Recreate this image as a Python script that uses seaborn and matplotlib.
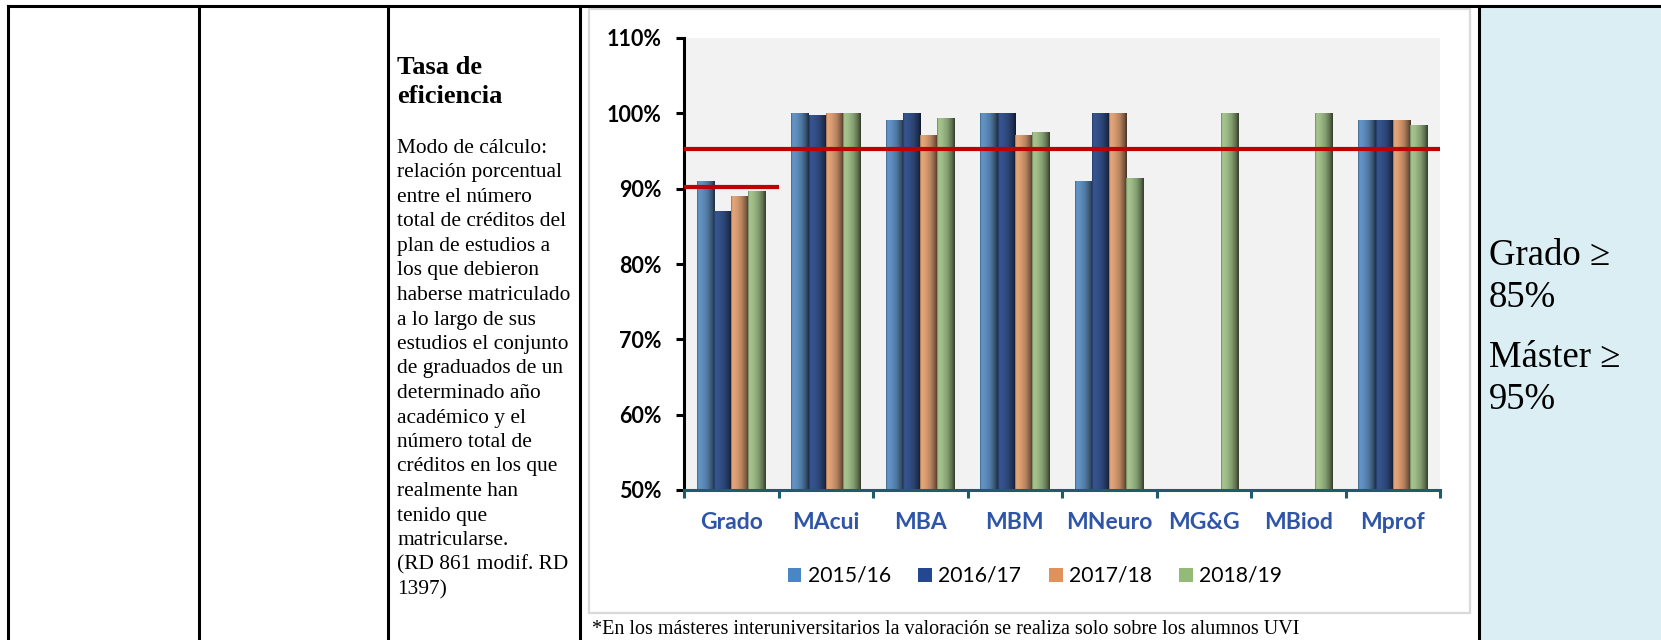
import numpy as np
import pandas as pd
import matplotlib
matplotlib.use("Agg")
import matplotlib.pyplot as plt
import seaborn as sns
from matplotlib.patches import Rectangle
from matplotlib.lines import Line2D

# ---------------- data ----------------
categories = ["Grado", "MAcui", "MBA", "MBM", "MNeuro", "MG&G", "MBiod", "Mprof"]
years = ["2015/16", "2016/17", "2017/18", "2018/19"]
v_2015_16 = [91.0, 100.0, 99.0, 100.0, 91.0, np.nan, np.nan, 99.1]
v_2016_17 = [87.0, 99.7, 100.0, 100.0, 100.0, np.nan, np.nan, 99.1]
v_2017_18 = [89.0, 100.0, 97.1, 97.1, 100.0, np.nan, np.nan, 99.1]
v_2018_19 = [89.6, 100.0, 99.3, 97.5, 91.3, 100.0, 100.0, 98.4]
target_grado = 90.2
target_master = 95.3
yticks = [50, 60, 70, 80, 90, 100, 110]
ytick_labels = [f"{t}%" for t in yticks]
year_colors = ["#4A86C4", "#23488F", "#E0925C", "#94BA77"]

title_lines = ["Tasa de", "eficiencia"]
body_lines = ["Modo de cálculo:", "relación porcentual", "entre el número",
              "total de créditos del", "plan de estudios a", "los que debieron",
              "haberse matriculado", "a lo largo de sus", "estudios el conjunto",
              "de graduados de un", "determinado año", "académico y el",
              "número total de", "créditos en los que", "realmente han",
              "tenido que", "matricularse.", "(RD 861 modif. RD", "1397)"]
right_lines = [["Grado ≥", "85%"], ["Máster ≥", "95%"]]
footnote = "*En los másteres interuniversitarios la valoración se realiza solo sobre los alumnos UVI"

df = pd.DataFrame({
    "cat": np.repeat(categories, len(years)),
    "year": years * len(categories),
    "val": np.column_stack([v_2015_16, v_2016_17, v_2017_18, v_2018_19]).ravel(),
})

# ---------------- figure ----------------
W, H = 1661, 640
fig = plt.figure(figsize=(W / 100, H / 100), dpi=100)
fig.patch.set_facecolor("white")


def fx(px):
    return px / W


def fy(py):
    return 1 - py / H


# right column light-blue cell
fig.add_artist(Rectangle((fx(1479), 0), fx(W) - fx(1479), fy(6), transform=fig.transFigure,
                         facecolor="#DAEEF3", edgecolor="none", zorder=-2))
# chart frame
fig.add_artist(Rectangle((fx(589), fy(613)), fx(1470) - fx(589), fy(9) - fy(613),
                         transform=fig.transFigure, facecolor="white",
                         edgecolor="#D9D9D9", lw=1.6, zorder=-1))
# table lines
tl = dict(color="black", lw=2.2, transform=fig.transFigure, zorder=3)
fig.add_artist(Line2D([fx(8), fx(W)], [fy(6), fy(6)], **tl))
for xv in [8, 199, 388, 580, 1479]:
    fig.add_artist(Line2D([fx(xv), fx(xv)], [fy(6), 0], **tl))

# ---------------- chart ----------------
ax = fig.add_axes([fx(684), fy(490), fx(1440) - fx(684), fy(38) - fy(490)])
ax.set_facecolor("#F2F2F2")
sns.barplot(data=df, x="cat", y="val", hue="year", order=categories, hue_order=years,
            palette=year_colors, width=0.73, errorbar=None, legend=False,
            linewidth=0, ax=ax, zorder=2)

ymin, ymax = 50, 110
# cylinder-like shading on each bar
t_pts = [0.0, 0.07, 0.3, 0.6, 0.85, 1.0]
f_pts = [0.75, 1.12, 1.05, 0.88, 0.6, 0.35]
tt = np.linspace(0, 1, 40)
ff = np.interp(tt, t_pts, f_pts)
for p in list(ax.patches):
    if not isinstance(p, Rectangle):
        continue
    h = p.get_height()
    if h is None or np.isnan(h) or h == 0:
        continue
    base = np.array(p.get_facecolor()[:3])
    grad = np.clip(base[None, :] * ff[:, None], 0, 1)[None, :, :]
    x0 = p.get_x()
    w = p.get_width()
    top = p.get_y() + h
    ax.imshow(grad, extent=[x0, x0 + w, max(p.get_y(), ymin), top],
              aspect="auto", interpolation="bilinear", zorder=2.5)

ax.hlines(target_grado, -0.5, 0.5, color="#C00000", lw=3.0, zorder=5)
ax.hlines(target_master, -0.5, len(categories) - 0.5, color="#C00000", lw=3.0, zorder=5)

ax.set_xlim(-0.5, len(categories) - 0.5)
ax.set_ylim(ymin, ymax)
ax.set_yticks(yticks)
ax.set_yticklabels(ytick_labels, fontfamily="Lato", fontweight="bold", fontsize=15.5, color="black")
ax.set_xticks(range(len(categories)))
ax.set_xticklabels(categories, fontfamily="Lato", fontweight="bold", fontsize=16.5, color="#2E55A8")
ax.set_xticks(np.arange(len(categories) + 1) - 0.5, minor=True)
ax.tick_params(axis="x", which="major", length=0, pad=16)
ax.tick_params(axis="x", which="minor", length=6, width=2.2, color="#1F5C6B", direction="out")
ax.tick_params(axis="y", which="major", length=6, width=2.2, color="black", pad=10)
ax.set_xlabel("")
ax.set_ylabel("")
for s in ["top", "right"]:
    ax.spines[s].set_visible(False)
ax.spines["left"].set_linewidth(2.2)
ax.spines["left"].set_color("black")
ax.spines["bottom"].set_linewidth(2.2)
ax.spines["bottom"].set_color("#1F5C6B")

handles = [Rectangle((0, 0), 1, 1, facecolor=c, edgecolor="none") for c in year_colors]
fig.legend(handles, years, loc="center", bbox_to_anchor=(fx(1035), fy(576)), ncol=4,
           frameon=False, prop={"family": "Lato", "size": 15.2}, handlelength=0.65,
           handleheight=0.65, handletextpad=0.3, columnspacing=1.3)

# ---------------- texts ----------------
serif = "Liberation Serif"
for i, line in enumerate(title_lines):
    fig.text(fx(397), fy(74 + 29 * i), line, fontfamily=serif, fontweight="bold",
             fontsize=19, va="baseline", ha="left")
for i, line in enumerate(body_lines):
    fig.text(fx(397), fy(153 + 24.5 * i), line, fontfamily=serif, fontsize=15.4,
             va="baseline", ha="left")
yb = 265
for para in right_lines:
    for line in para:
        fig.text(fx(1489), fy(yb), line, fontfamily=serif, fontsize=26.5,
                 va="baseline", ha="left")
        yb += 42
    yb += 18
fig.text(fx(592), fy(634), footnote, fontfamily=serif, fontsize=14.5,
         va="baseline", ha="left")

fig.savefig("out.png", dpi=100)
